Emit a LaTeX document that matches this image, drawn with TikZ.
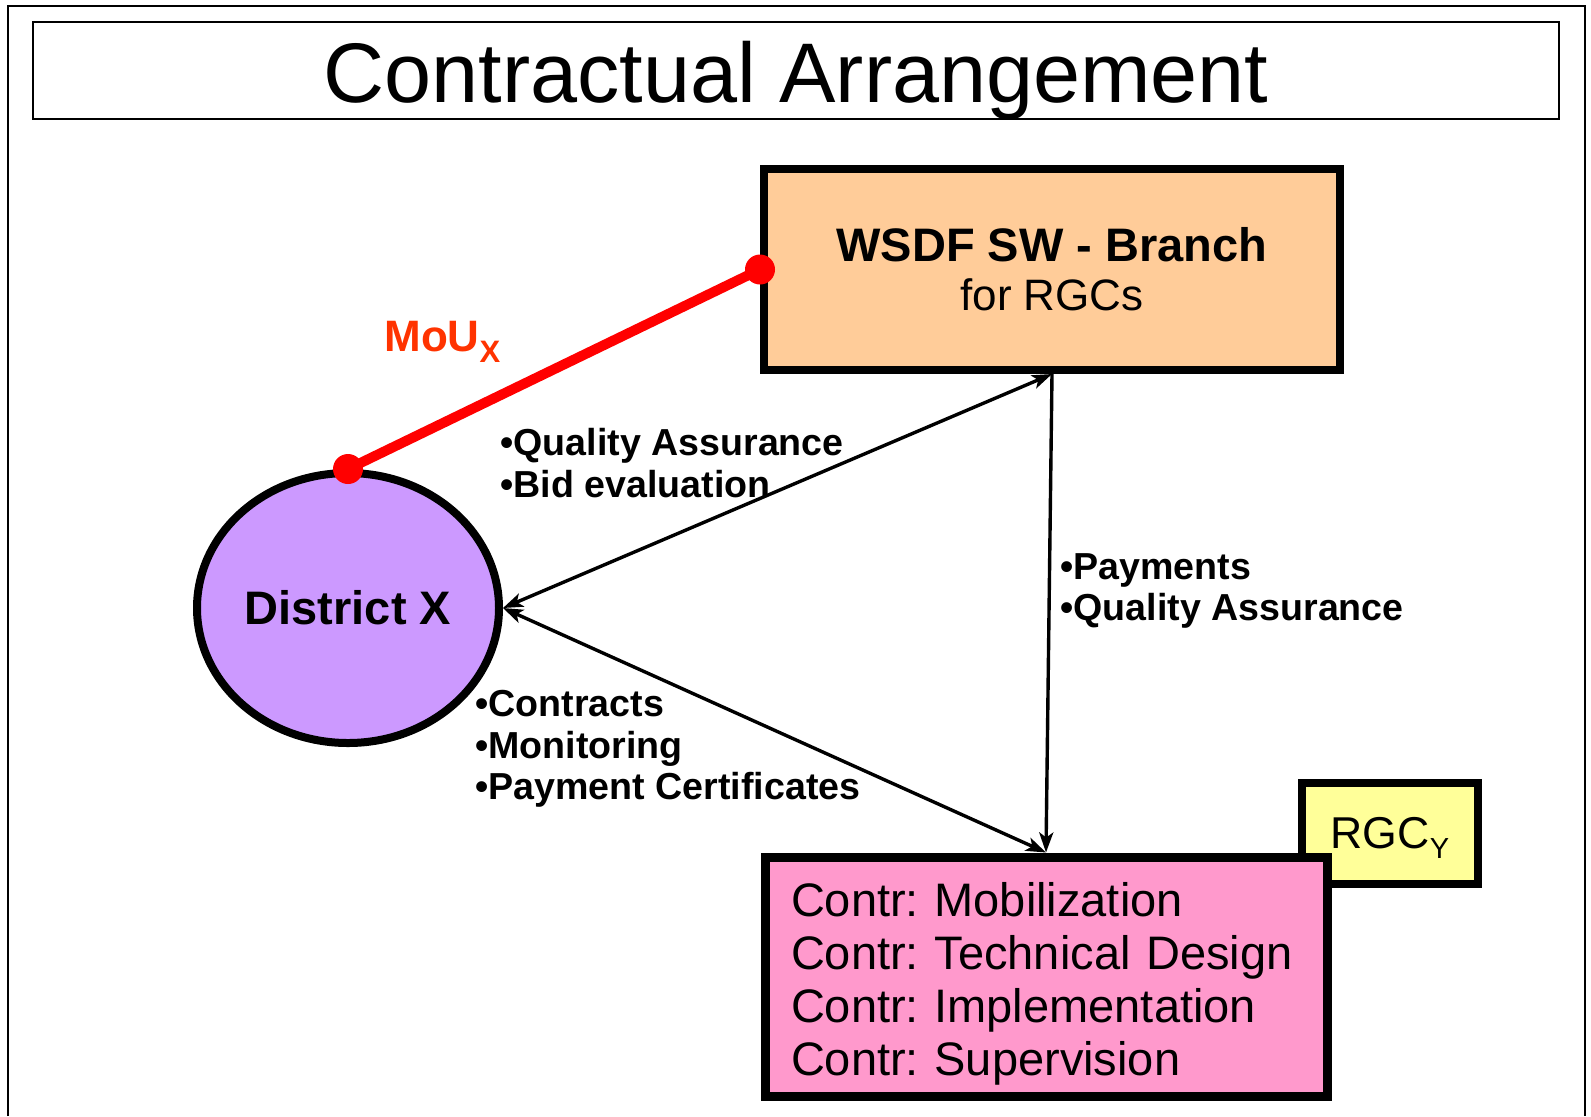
\documentclass[tikz,border=0pt]{standalone}
\usepackage{fontspec}
\setmainfont{Liberation Sans}
\usetikzlibrary{arrows.meta,shapes.geometric}
\definecolor{peach}{HTML}{FFCC99}
\definecolor{lilac}{HTML}{CC99FF}
\definecolor{rose}{HTML}{FF99CC}
\definecolor{lemon}{HTML}{FFFF99}
\definecolor{mouline}{HTML}{FF0000}
\definecolor{moutext}{HTML}{FF3300}
\frenchspacing
\tikzset{
  fatbox/.style={draw=black, line width=4pt, rectangle, inner sep=0pt},
  biarrow/.style={line width=1.7pt, {Stealth[length=10pt,width=7pt,inset=2.5pt]}-{Stealth[length=10pt,width=7pt,inset=2.5pt]}},
  onearrow/.style={line width=1.7pt, -{Stealth[length=10pt,width=7pt,inset=2.5pt]}},
  lbl/.style={anchor=north west, inner sep=0pt, align=left, font=\bfseries\fontsize{18.8}{20.75}\selectfont},
  moustyle/.style={draw=mouline, line width=5pt},
}
\begin{document}
\begin{tikzpicture}[x=0.5pt,y=-0.5pt]
\useasboundingbox (0,0) rectangle (1591,1116);
% outer frame
\draw[line width=1pt] (8,1116) -- (8,6) -- (1585,6) -- (1585,1116);
% title
\node[draw, line width=1pt, minimum width=763pt, minimum height=48.5pt, inner sep=0pt] (titlebox) at (796,70.5) {};
\node[anchor=base, inner sep=0pt, font=\fontsize{42.3}{48}\selectfont] (title) at (796,102) {Contractual Arrangement};
% WSDF box
\node[fatbox, fill=peach, minimum width=288pt, minimum height=100.5pt, align=center, font=\fontsize{23.5}{24.5}\selectfont] (wsdf) at (1052,269.5) {\textbf{WSDF SW - Branch}\\{\fontsize{22}{24.5}\selectfont for RGCs}};
% District
\node[ellipse, draw=black, line width=4pt, fill=lilac, minimum width=151pt, minimum height=135pt, inner sep=0pt, font=\bfseries\fontsize{23.5}{28}\selectfont] (dist) at (348,608) {District X};
% RGC box
\node[fatbox, fill=lemon, minimum width=88pt, minimum height=50.5pt, font=\fontsize{22.3}{24}\selectfont] (rgc) at (1390,833.5) {RGC\smash{\raisebox{-5pt}{\fontsize{14.5}{14.5}\selectfont Y}}};
% Contractors box
\node[fatbox, line width=4.5pt, fill=rose, minimum width=281pt, minimum height=119.5pt, text width=255pt, align=left, inner xsep=13pt, font=\fontsize{23.5}{26.5}\selectfont] (contr) at (1046,976.5) {\rule{0pt}{24pt}Contr: Mobilization\\Contr: Technical Design\\Contr: Implementation\\Contr: Supervision};
% MoU
\draw[moustyle] (dist.north) -- (wsdf.west);
\fill[mouline] (dist.north) circle[radius=7.5pt];
\fill[mouline] (wsdf.west) circle[radius=7.5pt];
\node[anchor=base west, inner sep=0pt, text=moutext, font=\bfseries\fontsize{22}{24}\selectfont] (mou) at (384,351) {MoU\raisebox{-5.5pt}{\fontsize{15.5}{16}\selectfont X}};
% connectors
\draw[biarrow] (dist.east) -- (wsdf.south);
\draw[biarrow] (dist.east) -- (contr.north);
\draw[onearrow] (wsdf.south) -- (contr.north);
% labels
\node[lbl] (qa) at (500,428) {•Quality Assurance\\•Bid evaluation};
\node[lbl] (pay) at (1060,553) {•Payments\\•Quality Assurance};
\node[lbl] (ctr) at (475,690) {•Contracts\\•Monitoring\\•Payment Certificates};
\end{tikzpicture}
\end{document}
